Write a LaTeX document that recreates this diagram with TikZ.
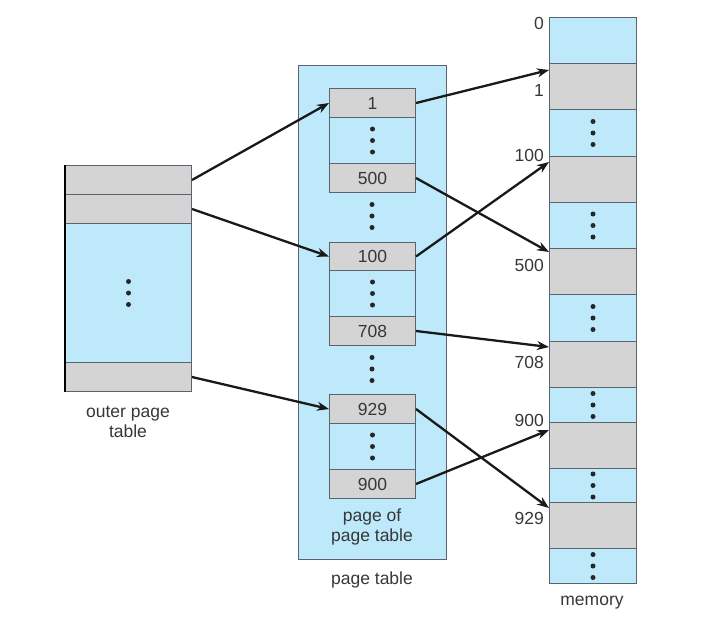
\documentclass[tikz,border=0pt]{standalone}
\usepackage{fontspec}
\setmainfont{Liberation Sans}
\usetikzlibrary{arrows.meta,calc}
\definecolor{cellblue}{RGB}{190,233,250}
\definecolor{cellgray}{RGB}{212,212,212}
\definecolor{edgecol}{RGB}{90,100,110}
\definecolor{txtcol}{RGB}{55,55,55}
\definecolor{arrcol}{RGB}{25,25,25}
\tikzset{
  cell/.style={draw=edgecol, line width=1pt, inner sep=0pt, anchor=north west,
    minimum width=#1, text=txtcol, font=\fontsize{17.5}{20}\selectfont},
  gcell/.style={cell=#1, fill=cellgray},
  bcell/.style={cell=#1, fill=cellblue},
  lbl/.style={text=txtcol, font=\fontsize{17.5}{20}\selectfont, inner sep=0pt, align=center},
  arr/.style={draw=arrcol, line width=2.3pt, -{Stealth[length=12pt,width=9pt]}},
  dotc/.style={fill=black!85}
}
\newcommand{\tridots}[1]{%
  \foreach \dd in {-11.5,0,11.5} {\fill[dotc] ($(#1)+(0,\dd)$) circle (2.5pt);}}
\begin{document}
\begin{tikzpicture}[x=1pt,y=-1pt]
\useasboundingbox (0,0) rectangle (714,629);
% ---------- outer page table ----------
\node[gcell=126, minimum height=29] (o1) at (65,165) {};
\node[gcell=126, minimum height=29] (o2) at (65,194) {};
\node[bcell=126, minimum height=139] (ob) at (65,223) {};
\node[gcell=126, minimum height=29] (o3) at (65,362) {};
\draw[line width=2.4pt, black] (o1.north west) -- (o3.south west);
\tridots{ob.center}
\node[lbl] (olbl) at (128,422) {outer page\\table};
% ---------- page table ----------
\node[bcell=148, minimum height=494] (pt) at (298,65) {};
\node[lbl] (ptlbl) at (372,580) {page table};
\node[gcell=86, minimum height=29] (p1) at (329,88) {1};
\node[bcell=86, minimum height=46] (pb1) at (329,117) {};
\node[gcell=86, minimum height=29] (p500) at (329,163) {500};
\node[gcell=86, minimum height=28] (p100) at (329,242) {100};
\node[bcell=86, minimum height=46] (pb2) at (329,270) {};
\node[gcell=86, minimum height=29] (p708) at (329,316) {708};
\node[gcell=86, minimum height=29] (p929) at (329,394) {929};
\node[bcell=86, minimum height=46] (pb3) at (329,423) {};
\node[gcell=86, minimum height=29] (p900) at (329,469) {900};
\tridots{pb1.center}
\tridots{pb2.center}
\tridots{pb3.center}
\coordinate (g1) at (372,216);
\coordinate (g2) at (372,369);
\tridots{g1}
\tridots{g2}
\node[lbl] (pplbl) at (372,527) {page of\\page table};
% ---------- memory ----------
\node[bcell=87, minimum height=46] (m0) at (549,17) {};
\node[gcell=87, minimum height=46] (m1) at (549,63) {};
\node[bcell=87, minimum height=47] (md1) at (549,109) {};
\node[gcell=87, minimum height=46] (m100) at (549,156) {};
\node[bcell=87, minimum height=46] (md2) at (549,202) {};
\node[gcell=87, minimum height=46] (m500) at (549,248) {};
\node[bcell=87, minimum height=47] (md3) at (549,294) {};
\node[gcell=87, minimum height=46] (m708) at (549,341) {};
\node[bcell=87, minimum height=35] (md4) at (549,387) {};
\node[gcell=87, minimum height=46] (m900) at (549,422) {};
\node[bcell=87, minimum height=34] (md5) at (549,468) {};
\node[gcell=87, minimum height=46] (m929) at (549,502) {};
\node[bcell=87, minimum height=35] (md6) at (549,548) {};
\tridots{md1.center}
\tridots{md2.center}
\tridots{md3.center}
\tridots{md4.center}
\tridots{md5.center}
\tridots{md6.center}
\node[lbl] (mlbl) at (592,603) {memory};
\node[lbl, anchor=east] (l0) at (544,23) {0};
\node[lbl, anchor=east] (l1) at (544,90) {1};
\node[lbl, anchor=east] (l100) at (544,155) {100};
\node[lbl, anchor=east] (l500) at (544,265) {500};
\node[lbl, anchor=east] (l708) at (544,362) {708};
\node[lbl, anchor=east] (l900) at (544,420) {900};
\node[lbl, anchor=east] (l929) at (544,518) {929};
% ---------- arrows ----------
\draw[arr] (o1.east) -- (p1.west);
\draw[arr] (o2.east) -- (p100.west);
\draw[arr] (o3.east) -- (p929.west);
\coordinate (t1) at ($(m1.north west)+(0,7)$);
\coordinate (t500) at ($(m500.north west)+(0,4)$);
\coordinate (t100) at ($(m100.north west)+(0,6)$);
\coordinate (t708) at ($(m708.north west)+(0,6)$);
\coordinate (t929) at ($(m929.north west)+(0,6)$);
\coordinate (t900) at ($(m900.north west)+(0,8)$);
\draw[arr] (p1.east) -- (t1);
\draw[arr] (p500.east) -- (t500);
\draw[arr] (p100.east) -- (t100);
\draw[arr] (p708.east) -- (t708);
\draw[arr] (p929.east) -- (t929);
\draw[arr] (p900.east) -- (t900);
\end{tikzpicture}
\end{document}
